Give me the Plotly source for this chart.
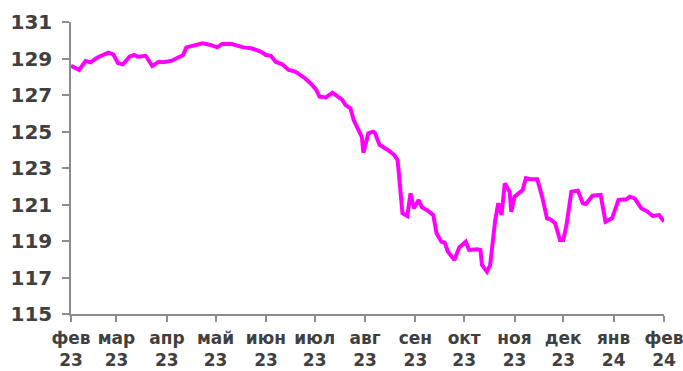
import plotly.graph_objects as go

# Daily index level, Feb 2023 - Feb 2024
dates = [
    "2023-02-01", "2023-02-06", "2023-02-10", "2023-02-13", "2023-02-17", "2023-02-20",
    "2023-02-24", "2023-02-27", "2023-03-02", "2023-03-05", "2023-03-09", "2023-03-12",
    "2023-03-14", "2023-03-19", "2023-03-23", "2023-03-27", "2023-03-30", "2023-04-04",
    "2023-04-09", "2023-04-11", "2023-04-13", "2023-04-18", "2023-04-23", "2023-04-28",
    "2023-05-02", "2023-05-05", "2023-05-11", "2023-05-18", "2023-05-23", "2023-05-29",
    "2023-06-01", "2023-06-04", "2023-06-07", "2023-06-11", "2023-06-15", "2023-06-19",
    "2023-06-25", "2023-06-29", "2023-07-02", "2023-07-04", "2023-07-08", "2023-07-12",
    "2023-07-15", "2023-07-18", "2023-07-20", "2023-07-23", "2023-07-25", "2023-07-28",
    "2023-07-30", "2023-07-31", "2023-08-03", "2023-08-06", "2023-08-07", "2023-08-10",
    "2023-08-15", "2023-08-19", "2023-08-21", "2023-08-22", "2023-08-24", "2023-08-27",
    "2023-08-29", "2023-08-31", "2023-09-03", "2023-09-05", "2023-09-08", "2023-09-12",
    "2023-09-14", "2023-09-17", "2023-09-19", "2023-09-21", "2023-09-25", "2023-09-28",
    "2023-10-02", "2023-10-04", "2023-10-09", "2023-10-11", "2023-10-12", "2023-10-15",
    "2023-10-17", "2023-10-20", "2023-10-22", "2023-10-24", "2023-10-26", "2023-10-29",
    "2023-10-30", "2023-11-01", "2023-11-04", "2023-11-06", "2023-11-08", "2023-11-11",
    "2023-11-15", "2023-11-18", "2023-11-21", "2023-11-23", "2023-11-26", "2023-11-29",
    "2023-12-01", "2023-12-03", "2023-12-06", "2023-12-10", "2023-12-13", "2023-12-15",
    "2023-12-19", "2023-12-24", "2023-12-27", "2023-12-31", "2024-01-04", "2024-01-09",
    "2024-01-11", "2024-01-14", "2024-01-18", "2024-01-22", "2024-01-25", "2024-01-29",
    "2024-02-01",
]
values = [
    128.60, 128.37, 128.86, 128.79, 129.04, 129.14,
    129.32, 129.23, 128.74, 128.68, 129.10, 129.19,
    129.10, 129.15, 128.59, 128.82, 128.79, 128.88,
    129.10, 129.19, 129.61, 129.74, 129.83, 129.74,
    129.61, 129.79, 129.79, 129.61, 129.56, 129.37,
    129.19, 129.15, 128.82, 128.68, 128.37, 128.28,
    127.92, 127.59, 127.27, 126.91, 126.87, 127.13,
    126.91, 126.73, 126.45, 126.27, 125.63, 125.08,
    124.71, 123.84, 124.90, 124.99, 124.93, 124.26,
    123.99, 123.71, 123.44, 122.52, 120.52, 120.37,
    121.61, 120.79, 121.25, 120.85, 120.70, 120.42,
    119.42, 118.96, 118.91, 118.41, 117.96, 118.65,
    118.96, 118.51, 118.55, 118.51, 117.68, 117.32,
    117.68, 120.06, 121.07, 120.42, 122.16, 121.70,
    120.60, 121.43, 121.65, 121.79, 122.44, 122.38,
    122.38, 121.43, 120.24, 120.19, 119.97, 119.05,
    119.05, 119.88, 121.70, 121.76, 121.07, 121.03,
    121.48, 121.52, 120.06, 120.24, 121.25, 121.29,
    121.43, 121.34, 120.79, 120.60, 120.37, 120.42,
    120.06,
]

# Month ticks
tick_dates = [
    "2023-02-01", "2023-03-01", "2023-04-01", "2023-05-01", "2023-06-01",
    "2023-07-01", "2023-08-01", "2023-09-01", "2023-10-01", "2023-11-01",
    "2023-12-01", "2024-01-01", "2024-02-01",
]
tick_labels = [
    "фев<br>23", "мар<br>23", "апр<br>23", "май<br>23", "июн<br>23",
    "июл<br>23", "авг<br>23", "сен<br>23", "окт<br>23", "ноя<br>23",
    "дек<br>23", "янв<br>24", "фев<br>24",
]
y_ticks = [115, 117, 119, 121, 123, 125, 127, 129, 131]

axis_color = "#8c8c8c"
text_color = "#404040"
label_font = "DejaVu Sans"

fig = go.Figure()
fig.add_trace(go.Scatter(
    x=dates, y=values, mode="lines",
    line=dict(color="#ff00ff", width=4),
    hoverinfo="skip",
))

fig.update_layout(
    width=683, height=371,
    margin=dict(l=71, r=19, t=22, b=57),
    paper_bgcolor="white", plot_bgcolor="white",
    showlegend=False,
    font=dict(family=label_font, color=text_color),
)
fig.update_xaxes(
    range=["2023-02-01", "2024-02-01"],
    tickvals=tick_dates, ticktext=tick_labels,
    tickfont=dict(family=label_font, size=17, color=text_color, weight="bold"),
    ticks="outside", ticklen=6, tickwidth=1.5, tickcolor=axis_color,
    showline=True, linecolor=axis_color, linewidth=1.5,
    showgrid=False, zeroline=False, automargin=False,
    ticklabelstandoff=2, ticklabeloverflow="allow",
)
fig.update_yaxes(
    range=[115, 131],
    tickvals=y_ticks, ticktext=[str(v) for v in y_ticks],
    tickfont=dict(family=label_font, size=20, color=text_color, weight="bold"),
    ticks="outside", ticklen=7, tickwidth=1.5, tickcolor=axis_color,
    showline=True, linecolor=axis_color, linewidth=1.5,
    showgrid=False, zeroline=False, automargin=False,
    ticklabelstandoff=6, ticklabeloverflow="allow",
)

fig.write_html("out.html")
